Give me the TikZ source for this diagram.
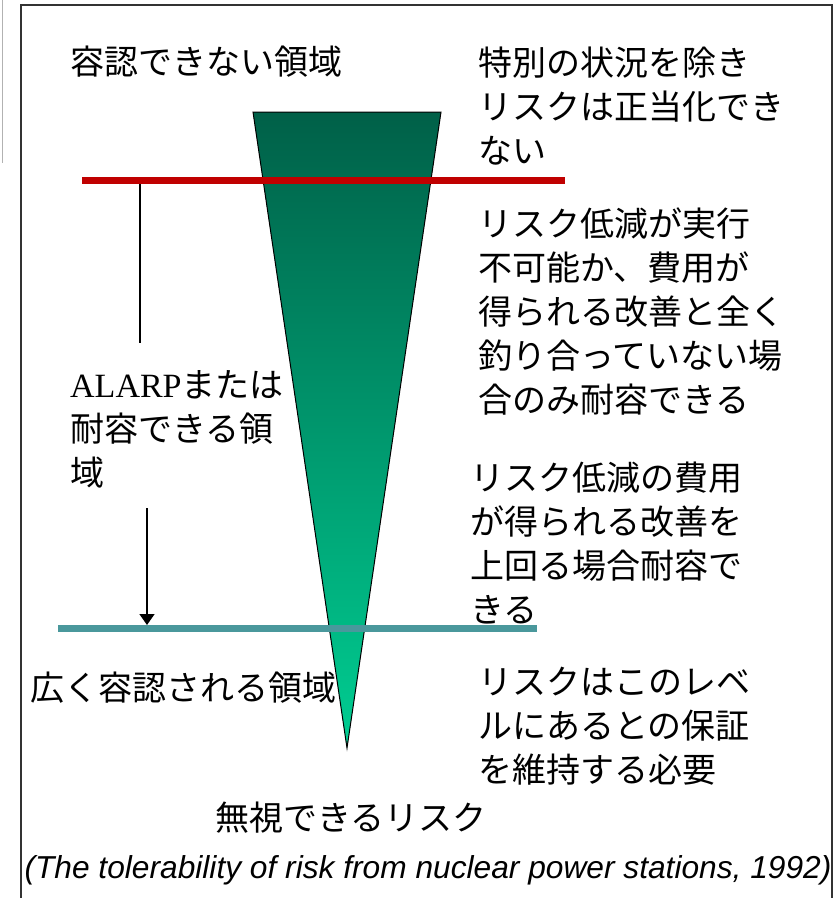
\documentclass[tikz,border=0pt]{standalone}
\usepackage{fontspec}
\usepackage{xcolor}
\usetikzlibrary{arrows.meta, positioning}
\newfontfamily\jpfont{Noto Sans CJK JP}
\newfontfamily\alarpfont{Liberation Serif}
\setsansfont{Liberation Sans}
\definecolor{funneltop}{RGB}{0,96,72}
\definecolor{funnelbot}{RGB}{0,206,146}
\definecolor{limitred}{RGB}{192,0,0}
\definecolor{limitteal}{RGB}{74,152,156}

\begin{document}
\begin{tikzpicture}[
    x=1pt, y=-1pt, >={Triangle[length=11pt,width=15pt]},
    region/.style={anchor=west, align=left, inner sep=0pt, font=\jpfont\fontsize{34}{44}\selectfont},
    limit/.style={line width=7pt},
    guide/.style={line width=1.4pt, draw=black}
]
\useasboundingbox (0,0) rectangle (837,898);

% frame of the slide
\draw[gray!60, line width=1pt] (2,0) -- (2,163);
\draw[black!80, line width=2pt] (21,905) -- (21,5) -- (832,5) -- (832,905);

% the risk funnel
\shadedraw[top color=funneltop, bottom color=funnelbot, draw=black, line width=1pt]
    (253,112) -- (441,112) -- (347,748) -- cycle;

\draw[limit, limitred] (82,180) -- (565,180);
\draw[limit, limitteal] (58,628) -- (537,628);

\coordinate (ticktop) at (140,184);
\coordinate (tickend) at (140,343);
\coordinate (arrowstart) at (147,508);
\coordinate (arrowend) at (147,625);

\draw[guide] (ticktop) -- (tickend);
\draw[guide, ->] (arrowstart) -- (arrowend);

\node[region] (unacc) at (70,62) {容認できない領域};
\node[region] (unaccnote) at (478,106) {特別の状況を除き\\リスクは正当化でき\\ない};
\node[region] (tolnote) at (478,311) {リスク低減が実行\\不可能か、費用が\\得られる改善と全く\\釣り合っていない場\\合のみ耐容できる};
\node[region] (alarp) at (70,429) {{\alarpfont ALARP}または\\耐容できる領\\域};
\node[region] (alarpnote) at (470,543) {リスク低減の費用\\が得られる改善を\\上回る場合耐容で\\きる};
\node[region] (broad) at (30,688) {広く容認される領域};
\node[region] (broadnote) at (478,726) {リスクはこのレベ\\ルにあるとの保証\\を維持する必要};
\node[region] (negl) at (215,818) {無視できるリスク};

\node[font=\sffamily\itshape\fontsize{31.7}{36}\selectfont, inner sep=0pt] (source) at (428,870)
    {(The tolerability of risk from nuclear power stations, 1992)};

\end{tikzpicture}
\end{document}
